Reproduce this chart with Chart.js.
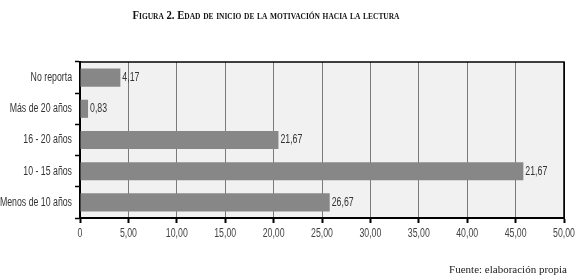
<!DOCTYPE html>
<html>
<head>
<meta charset="utf-8">
<script src="https://cdn.jsdelivr.net/npm/chart.js@4/dist/chart.umd.min.js"></script>
<style>
  html, body { margin: 0; padding: 0; background: #fff; }
  #wrap { width: 580px; height: 280px; }
</style>
</head>
<body>
<div id="wrap"><canvas id="edadChart" width="580" height="280"></canvas></div>
<script>
const categories = ["No reporta", "Más de 20 años", "16 - 20 años", "10 - 15 años", "Menos de 10 años"];
// bar lengths as drawn in the figure
const values = [4.17, 0.83, 20.5, 45.8, 25.8];
// labels as printed next to each bar
const barLabels = ["4,17", "0,83", "21,67", "21,67", "26,67"];
const xTicks = [0, 5, 10, 15, 20, 25, 30, 35, 40, 45, 50];

const titleText = "Figura 2. Edad de inicio de la motivación hacia la lectura";
const sourceText = "Fuente: elaboración propia";

const sansFont = "'Liberation Sans', 'Noto Sans', sans-serif";
const serifFont = "'Liberation Serif', 'DejaVu Serif', serif";
const narrow = 0.73; // squeeze to mimic the condensed face of the original

// draw text squeezed horizontally
function narrowText(ctx, text, x, y, align, k = narrow) {
  ctx.save();
  ctx.translate(x, y);
  ctx.scale(k, 1);
  ctx.textAlign = align;
  ctx.fillText(text, 0, 0);
  ctx.restore();
}

const fmtTick = v => (v === 0 ? "0" : v.toFixed(2).replace(".", ","));

/* ---------- plot frame, labels, title ---------- */
const framePlugin = {
  id: "frame",
  beforeDraw(chart) {
    const { ctx, chartArea: a } = chart;
    ctx.save();
    ctx.fillStyle = "#f1f1f1";
    ctx.fillRect(a.left, a.top, a.right - a.left, a.bottom - a.top);
    ctx.restore();
  },
  afterDraw(chart) {
    const { ctx, chartArea: a } = chart;
    const xs = chart.scales.x, ys = chart.scales.y;
    ctx.save();
    ctx.strokeStyle = "#000";
    ctx.lineWidth = 1.5;
    ctx.beginPath();
    ctx.moveTo(a.left, a.top);
    ctx.lineTo(a.right, a.top);
    ctx.lineTo(a.right, a.bottom);
    ctx.stroke();

    ctx.textBaseline = "middle";
    ctx.font = "12px " + sansFont;

    // category labels
    ctx.fillStyle = "#333";
    categories.forEach((c, i) => {
      narrowText(ctx, c, a.left - 8, ys.getPixelForTick(i), "right");
    });

    // x tick labels
    ctx.fillStyle = "#444";
    xTicks.forEach(v => {
      narrowText(ctx, fmtTick(v), xs.getPixelForValue(v), a.bottom + 16, "center");
    });

    // value labels
    ctx.fillStyle = "#333";
    const meta = chart.getDatasetMeta(0);
    meta.data.forEach((bar, i) => {
      narrowText(ctx, barLabels[i], bar.x + 2, bar.y, "left");
    });

    // title (small caps)
    ctx.fillStyle = "#111";
    ctx.font = "small-caps bold 11.5px " + serifFont;
    narrowText(ctx, titleText, 266, 16, "center", 0.93);

    // source
    ctx.font = "11px " + serifFont;
    ctx.textAlign = "right";
    ctx.fillStyle = "#222";
    ctx.fillText(sourceText, 567, 270);
    ctx.restore();
  }
};

const ctx = document.getElementById("edadChart").getContext("2d");

const chart = new Chart(ctx, {
  type: "bar",
  data: {
    labels: categories,
    datasets: [{
      data: values,
      backgroundColor: "#878787",
      borderWidth: 0,
      barPercentage: 0.58,
      categoryPercentage: 1.0
    }]
  },
  options: {
    indexAxis: "y",
    responsive: false,
    animation: false,
    layout: { padding: { top: 62, right: 16, left: 0, bottom: 0 } },
    plugins: {
      legend: { display: false },
      tooltip: { enabled: false },
      title: { display: false }
    },
    scales: {
      x: {
        min: 0,
        max: 50,
        afterBuildTicks: s => { s.ticks = xTicks.map(v => ({ value: v })); },
        afterFit: s => { s.height = 62; },
        border: { color: "#000", width: 2 },
        grid: {
          color: c => (c.tick && c.tick.value === 50 ? "#000" : "#7a7a7a"),
          lineWidth: 1,
          drawTicks: true,
          tickLength: 5,
          tickColor: "#000",
          tickWidth: 2
        },
        ticks: { display: false }
      },
      y: {
        afterFit: s => { s.width = 80; },
        border: { color: "#000", width: 2 },
        grid: {
          offset: true,
          drawOnChartArea: false,
          drawTicks: true,
          tickLength: 5,
          tickColor: "#000",
          tickWidth: 1.5
        },
        ticks: { display: false }
      }
    }
  },
  plugins: [framePlugin]
});
</script>
</body>
</html>
